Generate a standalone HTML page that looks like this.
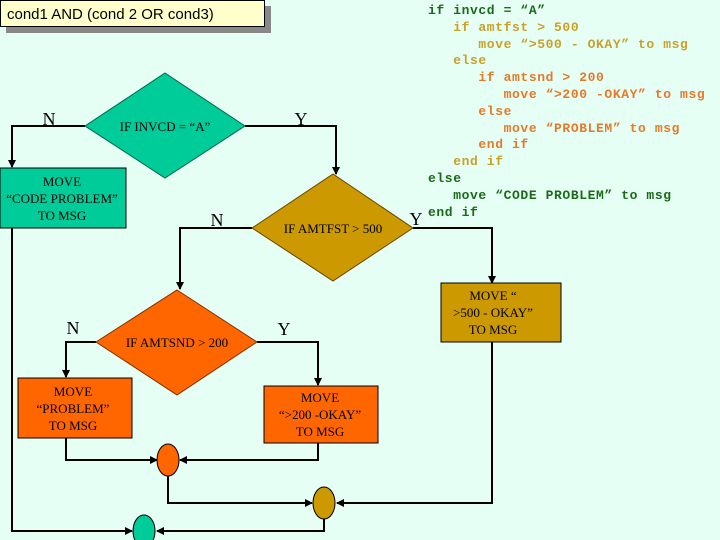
<!DOCTYPE html>
<html><head><meta charset="utf-8"><style>
html,body{margin:0;padding:0}
body{width:720px;height:540px;background:#e6fff4;position:relative;overflow:hidden}
.code{position:absolute;left:428px;top:3px;font-family:"Liberation Mono",monospace;font-size:13px;font-weight:bold;line-height:16.8px;white-space:pre;letter-spacing:0.6px}
.g{color:#1a6a1a}.y{color:#c8a12a}.o{color:#e4792a}
</style></head><body>
<svg width="720" height="540" style="position:absolute;left:0;top:0" font-family="Liberation Serif, serif">
<defs><marker id="a" markerWidth="8" markerHeight="8" refX="7" refY="4" orient="auto" markerUnits="userSpaceOnUse"><path d="M0,0 L8,4 L0,8 z" fill="#000"/></marker></defs>
<rect x="6" y="6" width="265" height="27" fill="#888"/>
<rect x="0.5" y="0.5" width="264" height="26" fill="#ffffcc" stroke="#000"/>
<text x="7" y="19" font-family="Liberation Sans, sans-serif" font-size="15" fill="#000">cond1 AND (cond 2 OR cond3)</text>
<g stroke="#000" stroke-width="2" fill="none">
<polyline points="85,126 12,126 12,167" marker-end="url(#a)"/>
<polyline points="245,126 336,126 336,174" marker-end="url(#a)"/>
<polyline points="252,228 180,228 180,289" marker-end="url(#a)"/>
<polyline points="413,228 492,228 492,283" marker-end="url(#a)"/>
<polyline points="96,342 66,342 66,377" marker-end="url(#a)"/>
<polyline points="257,342 318,342 318,385" marker-end="url(#a)"/>
<polyline points="66,438 66,460 157,460" marker-end="url(#a)"/>
<polyline points="318,443 318,460 180,460" marker-end="url(#a)"/>
<polyline points="168,476 168,503 312,503" marker-end="url(#a)"/>
<polyline points="492,342 492,503 337,503" marker-end="url(#a)"/>
<polyline points="12,228 12,531 132,531" marker-end="url(#a)"/>
<polyline points="324,519 324,531 157,531" marker-end="url(#a)"/>
</g>
<polygon points="165,73 245,126 165,178 85,126" fill="#00cc99" stroke="#006644"/>
<polygon points="333,174 413,228 333,281 252,228" fill="#cc9900" stroke="#664400"/>
<polygon points="177,290 257,342 177,395 96,342" fill="#ff6600" stroke="#803000"/>
<rect x="0" y="168" width="126" height="60" fill="#00cc99" stroke="#000"/>
<rect x="441" y="283" width="120" height="59" fill="#cc9900" stroke="#000"/>
<rect x="18" y="378" width="114" height="60" fill="#ff6600" stroke="#000"/>
<rect x="264" y="386" width="114" height="57" fill="#ff6600" stroke="#000"/>
<ellipse cx="168" cy="460" rx="11" ry="16" fill="#ff6600" stroke="#000"/>
<ellipse cx="324" cy="503" rx="11" ry="16" fill="#cc9900" stroke="#000"/>
<ellipse cx="144" cy="531" rx="11" ry="16" fill="#00cc99" stroke="#000"/>
<g font-size="13" fill="#000" text-anchor="middle">
<text x="165" y="131">IF INVCD = “A”</text>
<text x="333" y="233">IF AMTFST &gt; 500</text>
<text x="177" y="347">IF AMTSND &gt; 200</text>
<text x="62" y="186">MOVE</text><text x="62" y="203">“CODE PROBLEM”</text><text x="62" y="220">TO MSG</text>
<text x="493" y="300">MOVE “</text><text x="493" y="317">&gt;500 - OKAY”</text><text x="493" y="334">TO MSG</text>
<text x="73" y="396">MOVE</text><text x="73" y="413">“PROBLEM”</text><text x="73" y="430">TO MSG</text>
<text x="320" y="402">MOVE</text><text x="320" y="419">“&gt;200 -OKAY”</text><text x="320" y="436">TO MSG</text>
</g>
<g font-size="18" fill="#000" text-anchor="middle">
<text x="49" y="125">N</text><text x="301" y="125">Y</text>
<text x="217" y="226">N</text><text x="416" y="225">Y</text>
<text x="73" y="334">N</text><text x="284" y="335">Y</text>
</g>
</svg>
<div class="code"><span class="g">if invcd = “A”</span>
<span class="y">   if amtfst &gt; 500</span>
<span class="y">      move “&gt;500 - OKAY” to msg</span>
<span class="y">   else</span>
<span class="o">      if amtsnd &gt; 200</span>
<span class="o">         move “&gt;200 -OKAY” to msg</span>
<span class="o">      else</span>
<span class="o">         move “PROBLEM” to msg</span>
<span class="o">      end if</span>
<span class="y">   end if</span>
<span class="g">else</span>
<span class="g">   move “CODE PROBLEM” to msg</span>
<span class="g">end if</span></div>
</body></html>
